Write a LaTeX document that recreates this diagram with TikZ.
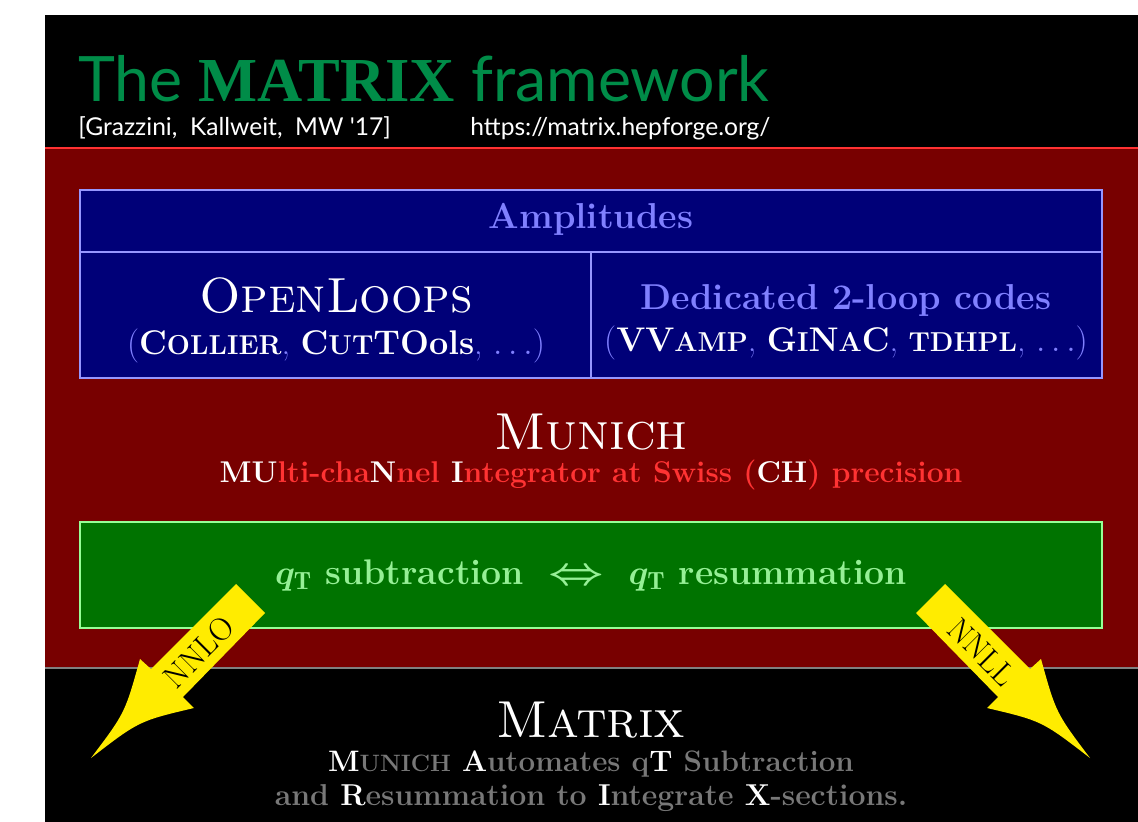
\documentclass[tikz,border=0pt]{standalone}
\usepackage{fontspec}
\newfontfamily\gillfont{Lato}
\newfontfamily\titleserif{Liberation Serif}
\definecolor{titlegreen}{RGB}{0,140,72}
\definecolor{bandred}{RGB}{120,0,0}
\definecolor{linered}{RGB}{255,50,50}
\definecolor{linegray}{RGB}{128,128,128}
\definecolor{ampfill}{RGB}{0,0,120}
\definecolor{ampedge}{RGB}{150,150,255}
\definecolor{amptext}{RGB}{128,128,255}
\definecolor{qtfill}{RGB}{0,115,0}
\definecolor{qtedge}{RGB}{150,255,150}
\definecolor{qttext}{RGB}{150,240,150}
\definecolor{subred}{RGB}{255,51,51}
\definecolor{subgray}{RGB}{120,120,120}
\definecolor{arrowyellow}{RGB}{255,236,0}
\makeatletter
\newcommand\lowcap[1]{{\fontsize{\fpeval{0.8*\f@size}}{0}\selectfont #1}}
\makeatother
\newcommand\hl[1]{{\color{white}#1}}
\tikzset{
  txt/.style={inner sep=0pt, anchor=base},
  boxline/.style={line width=1pt},
  arrowlabel/.style={inner sep=0pt, font=\fontsize{16}{16}\selectfont, text=black}
}
\begin{document}
\begin{tikzpicture}[x=0.5pt,y=-0.5pt]
\useasboundingbox (0,0) rectangle (1138,822);
\fill[white] (0,0) rectangle (1138,822);
\fill[black] (45,15) rectangle (1138,822);
% header
\node[txt, anchor=base west, text=titlegreen, font=\gillfont\fontsize{31.3}{31.3}\selectfont] (title) at (78,102)
  {The {\titleserif\bfseries MATRIX} framework};
\node[txt, anchor=base west, text=white, font=\gillfont\fontsize{12.3}{12.3}\selectfont] (authors) at (78,136)
  {[Grazzini, \ Kallweit, \ MW '17]};
\node[txt, anchor=base west, text=white, font=\gillfont\fontsize{12.3}{12.3}\selectfont] (url) at (470,136)
  {https://matrix.hepforge.org/};
% red band
\fill[bandred] (45,148) rectangle (1138,668);
\draw[linered, line width=1pt] (45,148) -- (1138,148);
\draw[linegray, line width=1pt] (45,668) -- (1138,668);
% amplitudes
\filldraw[fill=ampfill, draw=ampedge, boxline] (80,190) rectangle (1102,378);
\draw[ampedge, boxline] (80,252) -- (1102,252);
\draw[ampedge, boxline] (591,252) -- (591,378);
\node[txt, text=amptext, font=\bfseries\fontsize{18}{18}\selectfont] (amphead) at (591,229) {Amplitudes};
\node[txt, text=white, font=\fontsize{24.7}{24.7}\selectfont] (openloops) at (336,313) {\textsc{OpenLoops}};
\node[txt, text=amptext, font=\fontsize{17.1}{17.1}\selectfont] (olsub) at (336,355)
  {(\hl{\bfseries C\lowcap{OLLIER}}, \hl{\bfseries C\lowcap{UT}TOols}, $\ldots$)};
\node[txt, text=amptext, font=\bfseries\fontsize{18}{18}\selectfont] (dedicated) at (846,310) {Dedicated 2-loop codes};
\node[txt, text=amptext, font=\fontsize{17.1}{17.1}\selectfont] (dedsub) at (846,352)
  {(\hl{\bfseries VV\lowcap{AMP}}, \hl{\bfseries G\lowcap{I}N\lowcap{A}C}, \hl{\bfseries\lowcap{TDHPL}}, $\ldots$)};
% munich
\node[txt, text=white, font=\fontsize{26}{26}\selectfont] (munich) at (591,450) {\textsc{Munich}};
\node[txt, text=subred, font=\bfseries\fontsize{15}{15}\selectfont] (munichsub) at (591,482)
  {\hl{MU}lti-cha\hl{N}nel \hl{I}ntegrator at Swiss (\hl{CH}) precision};
% qt box
\filldraw[fill=qtfill, draw=qtedge, boxline] (80,522) rectangle (1102,628);
\node[txt, text=qttext, font=\bfseries\boldmath\fontsize{17.8}{17.8}\selectfont] (qt) at (591,584)
  {$q_{\mathrm{T}}$ subtraction $\;\scalebox{1.4}[1.1]{$\Leftrightarrow$}\;$ $q_{\mathrm{T}}$ resummation};
% matrix
\node[txt, text=white, font=\fontsize{26}{26}\selectfont] (matrix) at (591,737) {\textsc{Matrix}};
\node[txt, text=subgray, font=\bfseries\fontsize{14.8}{14.8}\selectfont] (mxone) at (591,771)
  {\hl{M}\lowcap{UNICH} \hl{A}utomates q\hl{T} Subtraction};
\node[txt, text=subgray, font=\bfseries\fontsize{15.1}{15.1}\selectfont] (mxtwo) at (591,805)
  {and \hl{R}esummation to \hl{I}ntegrate \hl{X}-sections.};
% arrows
\fill[arrowyellow] (236,584) -- (265,613) -- (183,697) -- (194,708)
  .. controls (139,721) .. (91,758) .. controls (125,713) .. (140,659) -- (151,669) -- cycle;
\fill[arrowyellow] (945,584) -- (916,613) -- (998,697) -- (987,708)
  .. controls (1042,721) .. (1090,758) .. controls (1056,713) .. (1041,659) -- (1030,669) -- cycle;
\node[arrowlabel, rotate=45] (nnlo) at (199,652) {NNLO};
\node[arrowlabel, rotate=-45] (nnll) at (982,652) {NNLL};
\end{tikzpicture}
\end{document}
